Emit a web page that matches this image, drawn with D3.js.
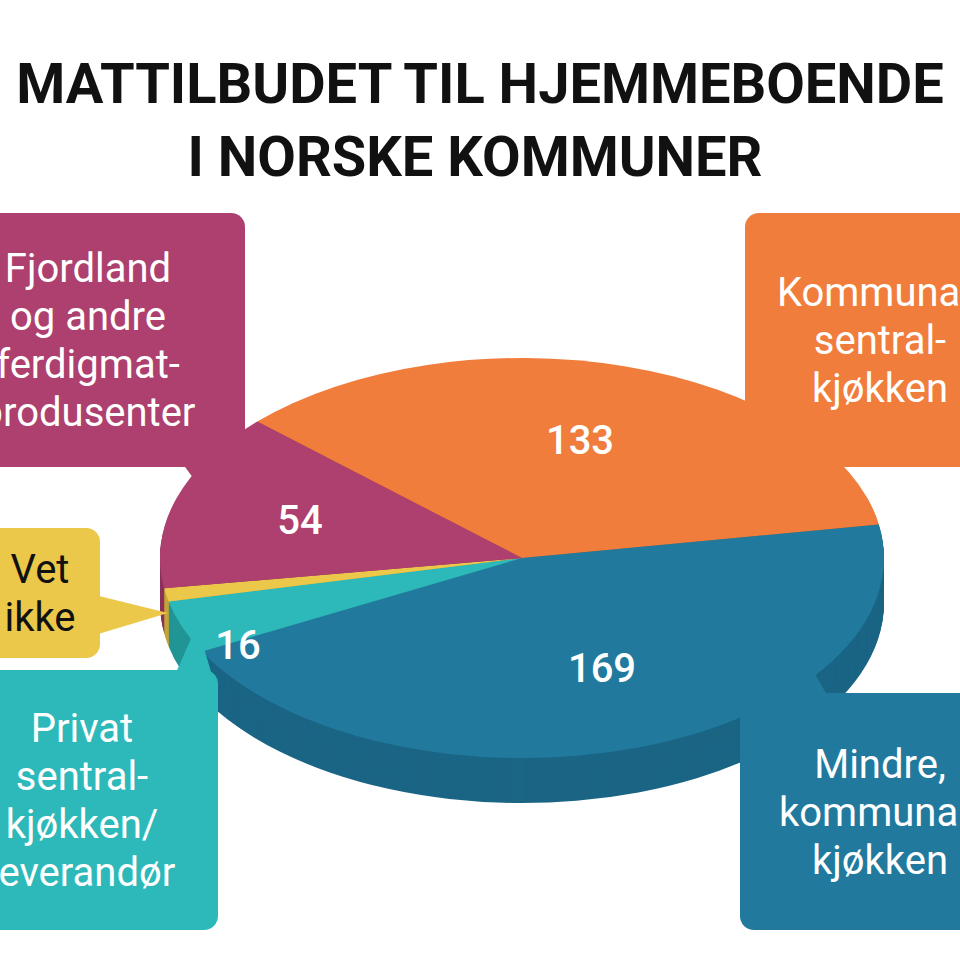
<!DOCTYPE html>
<html><head><meta charset="utf-8">
<script src="https://cdn.jsdelivr.net/npm/d3@7"></script>
<style>body{margin:0;background:#fff}</style></head>
<body><svg id="c" width="960" height="960"></svg>
<script>
const categories=["Kommunalt sentralkjøkken","Mindre, kommunalt kjøkken","Privat sentralkjøkken/leverandør","Vet ikke","Fjordland og andre ferdigmatprodusenter"];
const values=[133,169,16,4,54];
const labels=["133","169","16","",  "54"];
const colors=["#f07d3c","#217a9e","#2db9b9","#ecc84a","#ad406e"];
const dark=["#c2622c","#1b6585","#229595","#c4a43a","#8c3359"];
const svg=d3.select("#c");
const cx=522,cy=558,rx=362,ry=200,depth=45;
svg.append("text").attr("x",480).attr("y",103).attr("text-anchor","middle").attr("font-family","Roboto").attr("font-weight",700).attr("font-size",56).attr("fill","#111").text("MATTILBUDET TIL HJEMMEBOENDE");
svg.append("text").attr("x",475).attr("y",176).attr("text-anchor","middle").attr("font-family","Roboto").attr("font-weight",700).attr("font-size",56).attr("fill","#111").text("I NORSKE KOMMUNER");
const a0=-47*Math.PI/180;
const pie=d3.pie().sort(null).value(d=>d).startAngle(a0).endAngle(a0+2*Math.PI);
const arcs=pie(values);
const arc=d3.arc().innerRadius(0).outerRadius(rx);
for(let k=depth;k>0;k-=1){
  const g=svg.append("g").attr("transform",`translate(${cx},${cy+k}) scale(1,${ry/rx})`);
  g.selectAll("path").data(arcs).join("path").attr("d",arc).attr("fill",(d,i)=>dark[i]);
}
const topG=svg.append("g").attr("transform",`translate(${cx},${cy}) scale(1,${ry/rx})`);
topG.selectAll("path").data(arcs).join("path").attr("d",arc).attr("fill",(d,i)=>colors[i]);
const lab=d3.arc().innerRadius(rx*0.62).outerRadius(rx*0.62);
const lpos=[[580,440],[602,668],[238,645],null,[300,520]];
arcs.forEach((d,i)=>{if(!labels[i])return;let p=lab.centroid(d);let x=cx+p[0],y=cy+p[1]*ry/rx;
 if(lpos[i]){x=lpos[i][0];y=lpos[i][1];}
 svg.append("text").attr("x",x).attr("y",y+14).attr("text-anchor","middle").attr("font-family","Roboto").attr("font-weight",500).attr("font-size",40).attr("fill","#fff").text(labels[i]);});
function bubble(x,y,w,h,tail,col,lines,tx,tcol){
 const r=14;const [a,b,tip]=tail;
 svg.append("rect").attr("x",x).attr("y",y).attr("width",w).attr("height",h).attr("rx",r).attr("fill",col);
 svg.append("polygon").attr("points",[a,b,tip].map(p=>p.join(",")).join(" ")).attr("fill",col);
 lines.forEach((t,j)=>svg.append("text").attr("x",tx).attr("y",y+ (h-lines.length*48)/2+38+j*48).attr("text-anchor","middle").attr("font-family","Roboto").attr("font-size",40).attr("fill",tcol).text(t));
}
bubble(-20,213,265,254,[[180,460],[230,460],[220,515]],colors[4],["Fjordland","og andre","ferdigmat-","produsenter"],88,"#fff");
bubble(-30,528,130,130,[[95,595],[95,635],[168,613]],colors[3],["Vet","ikke"],40,"#111");
bubble(-20,670,238,260,[[175,675],[212,675],[197,625]],colors[2],["Privat","sentral-","kjøkken/","leverandør"],82,"#fff");
bubble(745,213,240,254,[[800,455],[840,455],[775,475]],colors[0],["Kommunalt","sentral-","kjøkken"],880,"#fff");
bubble(740,693,240,237,[[780,700],[830,700],[795,640]],colors[1],["Mindre,","kommunalt","kjøkken"],880,"#fff");
</script></body></html>
